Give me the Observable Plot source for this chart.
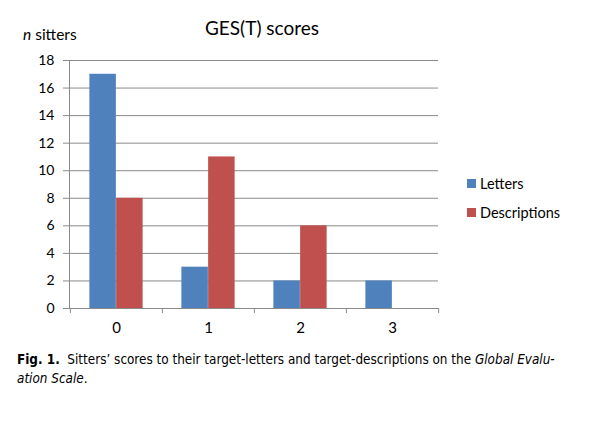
<!DOCTYPE html>
<html><head><meta charset="utf-8">
<script src="https://cdn.jsdelivr.net/npm/d3@7"></script>
<script src="https://cdn.jsdelivr.net/npm/@observablehq/plot@0.6"></script>
<style>
body{margin:0;background:#fff;}
#wrap{position:relative;width:600px;height:423px;overflow:hidden;font-family:Lato,"Open Sans",sans-serif;}
#chart{position:absolute;left:0;top:0;}
.t{position:absolute;white-space:nowrap;color:#000;}
#title{left:0;width:524px;text-align:center;top:16px;font-size:19px;}
#ylab{left:23px;top:25px;font-size:15.5px;}
#legend{left:467px;top:169px;font-size:14.5px;}
#legend div{display:flex;align-items:center;height:29px;}
#legend span.sw{display:inline-block;width:9px;height:9px;margin-right:4px;}
#caption{left:17px;top:350px;font-size:13.4px;line-height:19px;font-family:"Liberation Sans Narrow","DejaVu Sans Condensed",sans-serif;}
</style></head>
<body><div id="wrap">
<div id="chart"></div>
<div class="t" id="title">GES(T) scores</div>
<div class="t" id="ylab"><i>n</i> sitters</div>
<div class="t" id="legend"></div>
<div class="t" id="caption"><b>Fig. 1.</b>&nbsp; Sitters’ scores to their target-letters and target-descriptions on the <i>Global Evalu-<br>ation Scale</i>.</div>
</div>
<script>
const scores = ["0", "1", "2", "3"];
const series = ["Letters", "Descriptions"];
const letters = [17, 3, 2, 2];
const descriptions = [8, 11, 6, 0];
const colors = ["#4F81BD", "#C0504D"];
const yTicks = [0, 2, 4, 6, 8, 10, 12, 14, 16, 18];

const data = [];
scores.forEach((s, i) => {
  data.push({score: s, series: series[0], n: letters[i]});
  data.push({score: s, series: series[1], n: descriptions[i]});
});

const W = 600, H = 340, mL = 69, mR = 162, mT = 60, mB = 32;
const step = (W - mL - mR) / scores.length;
const bw = step * 0.29;            // width of each bar
const side = (step - 2 * bw) / 2;  // empty space at each side of a pair

const gray = "#8a8a8a";
const plot = Plot.plot({
  width: W, height: H,
  marginLeft: mL, marginRight: mR, marginTop: mT, marginBottom: mB,
  style: {fontFamily: "Lato, 'Open Sans', sans-serif", fontSize: "14px", color: "#000", background: "transparent"},
  x: {domain: scores, padding: 0, label: null},
  y: {domain: [0, 18], label: null},
  color: {domain: series, range: colors},
  marks: [
    Plot.gridY(yTicks, {stroke: gray, strokeOpacity: 1, strokeWidth: 1}),
    Plot.barY(data.filter(d => d.series === series[0]), {x: "score", y: "n", fill: colors[0], insetLeft: side, insetRight: side + bw}),
    Plot.barY(data.filter(d => d.series === series[1]), {x: "score", y: "n", fill: colors[1], insetLeft: side + bw, insetRight: side}),
    Plot.frame({anchor: "left", stroke: gray}),
    Plot.axisY({ticks: yTicks, tickSize: 6, tickPadding: 9, stroke: gray, fontSize: 14, label: null}),
    Plot.axisX({tickSize: 0, tickPadding: 14, fontSize: 15, label: null}),
    Plot.axisX({tickSize: 5, text: null, dx: -step / 2, stroke: gray, label: null}),
    Plot.axisX({ticks: [scores[scores.length - 1]], tickSize: 5, text: null, dx: step / 2, stroke: gray, label: null})
  ]
});
document.getElementById("chart").appendChild(plot);

const leg = document.getElementById("legend");
series.forEach((s, i) => {
  const d = document.createElement("div");
  d.innerHTML = `<span class="sw" style="background:${colors[i]}"></span>${s}`;
  leg.appendChild(d);
});
</script>
</body></html>
